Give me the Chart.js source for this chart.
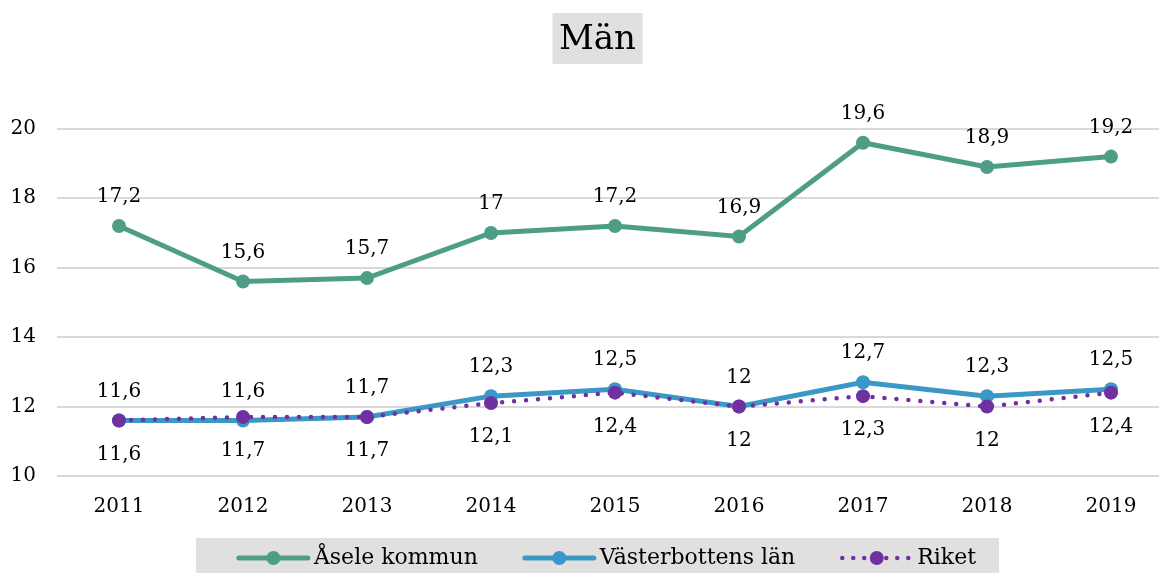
<!DOCTYPE html>
<html>
<head>
<meta charset="utf-8">
<script src="https://cdn.jsdelivr.net/npm/chart.js@4.4.1/dist/chart.umd.min.js"></script>
<style>
  html, body { margin: 0; padding: 0; background: #fff; overflow: hidden; }
  #wrap { width: 1195px; height: 585px; }
</style>
</head>
<body>
<div id="wrap"><canvas id="myChart"></canvas></div>
<script>
// Data
var years = ['2011', '2012', '2013', '2014', '2015', '2016', '2017', '2018', '2019'];
var asele = [17.2, 15.6, 15.7, 17, 17.2, 16.9, 19.6, 18.9, 19.2];
var vasterbotten = [11.6, 11.6, 11.7, 12.3, 12.5, 12, 12.7, 12.3, 12.5];
var riket = [11.6, 11.7, 11.7, 12.1, 12.4, 12, 12.3, 12, 12.4];
var yTicks = [10, 12, 14, 16, 18, 20];

var serif = "'DejaVu Serif', serif";

// Flytta titel och förklaring så att de centreras som i originalet
var layoutPlugin = {
  id: 'shiftBoxes',
  afterLayout: function(chart) {
    var t = chart.titleBlock;
    t.left = 22;
    var lg = chart.legend;
    lg.left = 40;
    lg.top = 502;
    lg.bottom = 600;
    lg.height = lg.bottom - lg.top;
  }
};

// Grå bakgrund bakom titel och förklaring
var bgPlugin = {
  id: 'bgBoxes',
  beforeDraw: function(chart) {
    var ctx = chart.ctx;
    ctx.save();
    ctx.fillStyle = '#e0e0e0';
    var t = chart.titleBlock;
    var cx = (t.left + t.right) / 2;
    ctx.fillRect(cx - 45, 13, 90, 51);
    var boxes = chart.legend.legendHitBoxes;
    if (boxes && boxes.length) {
      var last = boxes[boxes.length - 1];
      var l = boxes[0].left, r = last.left + last.width;
      var cy = boxes[0].top + boxes[0].height / 2;
      ctx.fillRect(l - 41, cy - 20, r - l + 64, 80);
    }
    ctx.restore();
  },
  afterDraw: function(chart) {
    // linjemarkörer i förklaringen
    var ctx = chart.ctx;
    var boxes = chart.legend.legendHitBoxes;
    var bw = chart.legend.options.labels.boxWidth;
    chart.data.datasets.forEach(function(ds, i) {
      var b = boxes[i];
      var y = b.top + b.height / 2;
      var x0 = b.left + 2, x1 = b.left + bw + 5;
      ctx.save();
      ctx.strokeStyle = ds.borderColor;
      ctx.lineWidth = ds.borderWidth;
      ctx.lineCap = 'round';
      ctx.setLineDash(ds.borderDash ? [0, 11] : []);
      ctx.beginPath();
      ctx.moveTo(x0, y);
      ctx.lineTo(x1, y);
      ctx.stroke();
      ctx.setLineDash([]);
      ctx.fillStyle = ds.borderColor;
      ctx.beginPath();
      ctx.arc((x0 + x1) / 2, y, 7, 0, Math.PI * 2);
      ctx.fill();
      ctx.restore();
    });
  }
};

// Etiketter vid punkterna
var labelPlugin = {
  id: 'pointLabels',
  afterDatasetsDraw: function(chart) {
    var ctx = chart.ctx;
    ctx.save();
    ctx.font = '20px ' + serif;
    ctx.fillStyle = '#000';
    ctx.textAlign = 'center';
    ctx.textBaseline = 'middle';
    chart.data.datasets.forEach(function(ds, i) {
      var meta = chart.getDatasetMeta(i);
      meta.data.forEach(function(pt, j) {
        var txt = String(ds.data[j]).replace('.', ',');
        var dy = ds.labelPos === 'below' ? 34 : -29;
        ctx.fillText(txt, pt.x, pt.y + dy);
      });
    });
    ctx.restore();
  }
};

var ctx = document.getElementById('myChart').getContext('2d');
var chart = new Chart(ctx, {
  type: 'line',
  data: {
    labels: years,
    datasets: [{
      label: 'Åsele kommun',
      data: asele,
      borderColor: '#4e9e87',
      backgroundColor: '#4e9e87',
      borderWidth: 5,
      pointRadius: 7,
      pointBackgroundColor: '#4e9e87',
      pointBorderWidth: 0,
      labelPos: 'above',
      order: 2
    }, {
      label: 'Västerbottens län',
      data: vasterbotten,
      borderColor: '#3b97c5',
      backgroundColor: '#3b97c5',
      borderWidth: 5,
      pointRadius: 7,
      pointBackgroundColor: '#3b97c5',
      pointBorderWidth: 0,
      labelPos: 'above',
      order: 1
    }, {
      label: 'Riket',
      data: riket,
      borderColor: '#7030a0',
      backgroundColor: '#7030a0',
      borderWidth: 4.5,
      borderDash: [0, 12],
      borderCapStyle: 'round',
      pointRadius: 7,
      pointBackgroundColor: '#7030a0',
      pointBorderWidth: 0,
      labelPos: 'below',
      order: 0
    }]
  },
  plugins: [layoutPlugin, bgPlugin, labelPlugin],
  options: {
    responsive: true,
    maintainAspectRatio: false,
    animation: false,
    layout: { padding: { left: 0, right: 22, top: 0, bottom: 0 } },
    plugins: {
      title: {
        display: true,
        text: 'Män',
        color: '#000',
        font: { family: serif, size: 34, weight: 'normal' },
        padding: { top: 20, bottom: 68 }
      },
      legend: {
        position: 'bottom',
        maxHeight: 40,
        labels: {
          color: '#000',
          font: { family: serif, size: 22 },
          boxWidth: 66,
          boxHeight: 6,
          padding: 45,
          generateLabels: function(chart) {
            return chart.data.datasets.map(function(ds, i) {
              return {
                text: ds.label,
                fillStyle: 'rgba(0,0,0,0)',
                strokeStyle: 'rgba(0,0,0,0)',
                lineWidth: 0,
                fontColor: '#000',
                datasetIndex: i
              };
            });
          }
        }
      },
      tooltip: { enabled: false }
    },
    scales: {
      x: {
        offset: true,
        afterFit: function(scale) { scale.height = 69; },
        grid: { display: false, drawTicks: false },
        border: { display: false },
        ticks: { color: '#000', font: { family: serif, size: 20 }, padding: 19 }
      },
      y: {
        min: 10,
        max: 20,
        afterFit: function(scale) { scale.width = 57; },
        afterBuildTicks: function(scale) {
          scale.ticks = yTicks.map(function(v) { return { value: v }; });
        },
        grid: { color: '#d9d9d9', lineWidth: 2, drawTicks: false },
        border: { display: false },
        ticks: { color: '#000', font: { family: serif, size: 20 }, padding: 21 }
      }
    }
  }
});
</script>
</body>
</html>
